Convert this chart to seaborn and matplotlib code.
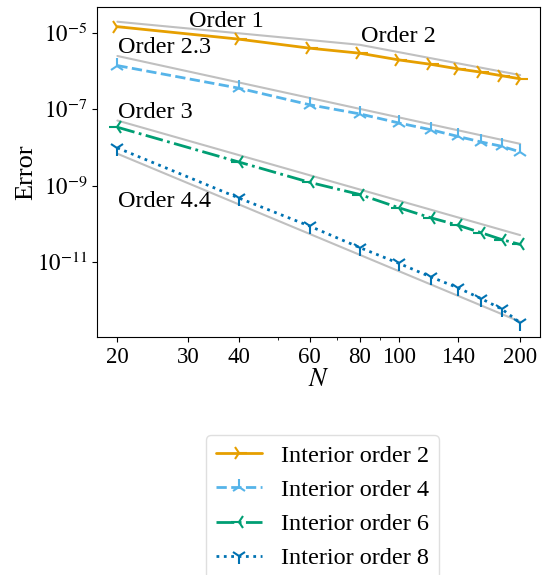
import numpy as np
import pandas as pd
import matplotlib
matplotlib.use("Agg")
import matplotlib.pyplot as plt
import matplotlib.ticker as mticker
import seaborn as sns

# ---------------- data ----------------
N = [20, 40, 60, 80, 100, 120, 140, 160, 180, 200]
err_order2 = [1.46e-5, 6.9e-6, 4.0e-6, 2.95e-6, 1.97e-6, 1.51e-6, 1.15e-6, 9.4e-7, 7.6e-7, 6.3e-7]
err_order4 = [1.4e-6, 3.6e-7, 1.32e-7, 7.6e-8, 4.4e-8, 2.93e-8, 1.96e-8, 1.40e-8, 1.08e-8, 7.7e-9]
err_order6 = [3.4e-8, 4.2e-9, 1.23e-9, 5.9e-10, 2.65e-10, 1.45e-10, 9.3e-11, 5.9e-11, 3.9e-11, 2.9e-11]
err_order8 = [9.8e-9, 4.8e-10, 8.8e-11, 2.4e-11, 9.3e-12, 4.1e-12, 2.14e-12, 1.11e-12, 5.9e-13, 2.6e-13]
series_labels = ["Interior order 2", "Interior order 4", "Interior order 6", "Interior order 8"]

# reference slopes (gray guide lines)
ref12_N = [20, 80, 200]
ref12_err = [1.97e-5, 4.9e-6, 7.9e-7]
ref23_N = [20, 200]
ref23_err = [2.5e-6, 1.25e-8]
ref3_N = [20, 200]
ref3_err = [5.1e-8, 5.1e-11]
ref44_N = [20, 200]
ref44_err = [6.9e-9, 2.75e-13]
ref_labels = ["Order 1", "Order 2", "Order 2.3", "Order 3", "Order 4.4"]

x_ticks = [20, 30, 40, 60, 80, 100, 140, 200]

# ---------------- style ----------------
sns.set_style("ticks", {"text.color": "black", "axes.labelcolor": "black",
                        "xtick.color": "black", "ytick.color": "black",
                        "axes.edgecolor": "black"})
plt.rcParams["font.family"] = ["Liberation Serif", "DejaVu Serif"]
plt.rcParams["mathtext.fontset"] = "stix"
plt.rcParams["font.size"] = 16
plt.rcParams["xtick.direction"] = "out"
plt.rcParams["ytick.direction"] = "out"

colors = ["#E69F00", "#56B4E9", "#009E73", "#0072B2"]
markers = ["4", "2", "3", "1"]
styles = ["-", "--", "-.", ":"]

fig = plt.figure(figsize=(5.44, 5.75), dpi=100)
ax = fig.add_axes([97 / 544, 1 - 337 / 575, (540 - 97) / 544, (337 - 7) / 575])

gray = "#c0c0c0"
for xs, ys in [(ref12_N, ref12_err), (ref23_N, ref23_err), (ref3_N, ref3_err), (ref44_N, ref44_err)]:
    sns.lineplot(x=xs, y=ys, ax=ax, color=gray, lw=1.5, zorder=1)

all_err = [err_order2, err_order4, err_order6, err_order8]
for ys, lab, c, m, s in zip(all_err, series_labels, colors, markers, styles):
    sns.lineplot(x=N, y=ys, ax=ax, color=c, marker=m, linestyle=s, lw=2,
                 markersize=11, markeredgewidth=1.5, markeredgecolor=c,
                 label=lab, zorder=3)

ax.set_xscale("log")
ax.set_yscale("log")
ax.set_xlim(17.8, 224)
ax.set_ylim(10 ** -12.96, 10 ** -4.32)

ax.xaxis.set_major_locator(mticker.FixedLocator(x_ticks))
ax.xaxis.set_major_formatter(mticker.FixedFormatter([str(t) for t in x_ticks]))
ax.xaxis.set_minor_locator(mticker.FixedLocator([50, 70, 90]))
ax.xaxis.set_minor_formatter(mticker.NullFormatter())
ax.yaxis.set_major_locator(mticker.FixedLocator([1e-11, 1e-9, 1e-7, 1e-5]))
ax.yaxis.set_major_formatter(mticker.FixedFormatter([r"$10^{-11}$", r"$10^{-9}$", r"$10^{-7}$", r"$10^{-5}$"]))
ax.yaxis.set_minor_locator(mticker.NullLocator())
ax.tick_params(labelsize=16.5)

ax.set_xlabel(r"$N$", fontsize=19, labelpad=1)
ax.set_ylabel("Error", fontsize=19, labelpad=0)

tk = dict(fontsize=17.5, va="baseline", ha="left")
ax.text(30.1, 1.46e-5, ref_labels[0], **tk)
ax.text(80.5, 5.9e-6, ref_labels[1], **tk)
ax.text(20.1, 2.95e-6, ref_labels[2], **tk)
ax.text(20.1, 6.0e-8, ref_labels[3], **tk)
ax.text(20.1, 2.7e-10, ref_labels[4], **tk)

leg = ax.legend(loc="upper center", bbox_to_anchor=(322.5 / 544, 1 - 435 / 575),
                bbox_transform=fig.transFigure, borderaxespad=0, fontsize=17.5,
                handlelength=1.9, frameon=True)
leg.get_frame().set_edgecolor("#d8d8d8")

fig.savefig("out.png", dpi=100)
